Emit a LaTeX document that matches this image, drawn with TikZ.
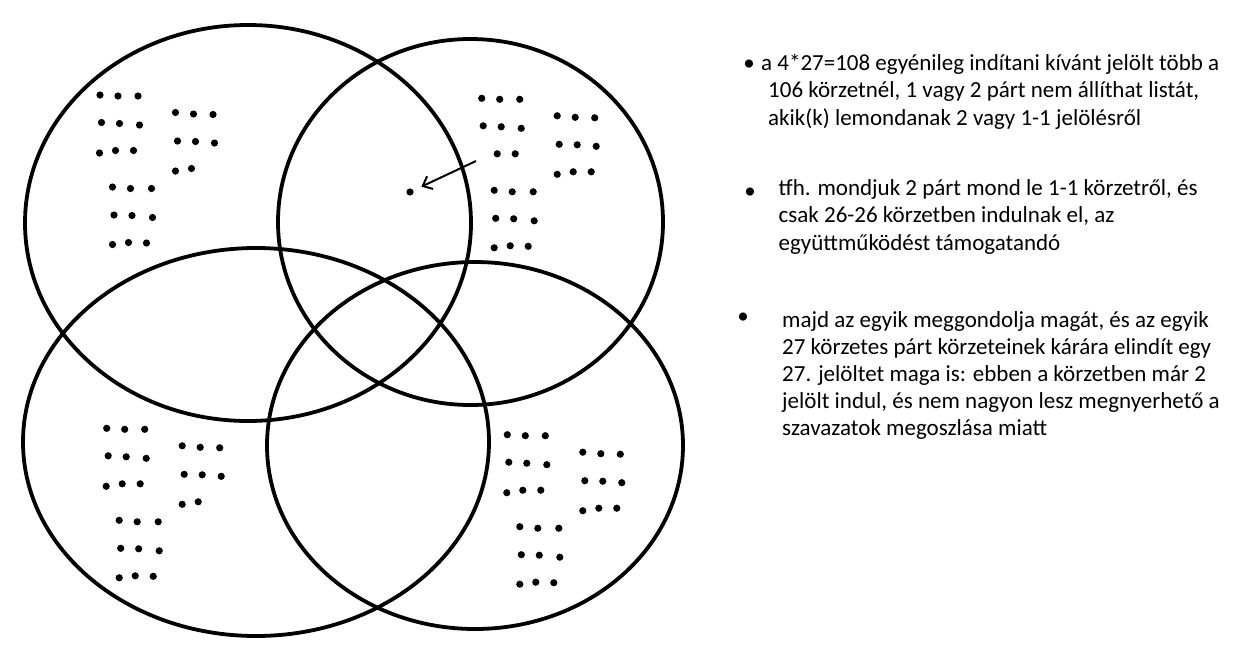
\documentclass[tikz,border=0pt]{standalone}
\usepackage{fontspec}
\setmainfont{Carlito}
\usetikzlibrary{arrows.meta}
\def\fullA{0/0,18/1,38/1,1.5/27.5,19.5/28.5,39.5/30,-0.5/58,15.5/55.5,33.5/55.5}
\def\partA{0/0,18/1,38/1,1.5/27.5,19.5/28.5,39.5/30,15.5/55.5,33.5/55.5}
\def\fullB{75.5/17.5,93.5/19,113/19.5,77.5/46,95.5/46.5,114.5/48,75.5/76,91.5/73.5,109.5/73.5}
\def\partB{75.5/17.5,93.5/19,113/19.5,77.5/46,95.5/46.5,114.5/48,75.5/76,91.5/73.5}
\def\fullC{12.5/92,30.5/93.5,51.5/93.5,14/120,32/120.5,52.5/122.5,12.5/149.5,28.5/147.5,46.5/148}
\begin{document}
\begin{tikzpicture}[x=1pt,y=-1pt,
  ring/.style={line width=3.8pt},
  dot/.style={circle,fill=black,inner sep=0pt,minimum size=7.2pt,outer sep=0pt},
  txt/.style={anchor=base west,inner sep=0pt,font=\fontsize{23}{27.5}\selectfont},
  bul/.style={anchor=base,inner sep=0pt,font=\fontsize{23}{27.5}\selectfont},
  arr/.style={line width=2pt,-{Straight Barb[length=8pt,width=14pt]},shorten >=9pt}]
\fill[white] (0,0) rectangle (1236,662);
\useasboundingbox (0,0) rectangle (1236,662);
% circles
\draw[ring] (248,223) ellipse [x radius=223pt,y radius=198pt];
\draw[ring] (470.5,222) ellipse [x radius=192.5pt,y radius=183pt];
\draw[ring] (256,442) ellipse [x radius=233pt,y radius=194pt];
\draw[ring] (475,445.5) ellipse [x radius=208pt,y radius=183.5pt];
% dot clusters
\begin{scope}[shift={(100,95)}]
 \foreach \dx/\dy [count=\i] in \fullA {\node[dot] (tla\i) at (\dx,\dy) {};}
 \foreach \dx/\dy [count=\i] in \partB {\node[dot] (tlb\i) at (\dx,\dy) {};}
 \foreach \dx/\dy [count=\i] in \fullC {\node[dot] (tlc\i) at (\dx,\dy) {};}
\end{scope}
\begin{scope}[shift={(481.7,98.3)}]
 \foreach \dx/\dy [count=\i] in \partA {\node[dot] (tra\i) at (\dx,\dy) {};}
 \foreach \dx/\dy [count=\i] in \fullB {\node[dot] (trb\i) at (\dx,\dy) {};}
 \foreach \dx/\dy [count=\i] in \fullC {\node[dot] (trc\i) at (\dx,\dy) {};}
\end{scope}
\begin{scope}[shift={(106.7,428.3)}]
 \foreach \dx/\dy [count=\i] in \fullA {\node[dot] (bla\i) at (\dx,\dy) {};}
 \foreach \dx/\dy [count=\i] in \partB {\node[dot] (blb\i) at (\dx,\dy) {};}
 \foreach \dx/\dy [count=\i] in \fullC {\node[dot] (blc\i) at (\dx,\dy) {};}
\end{scope}
\begin{scope}[shift={(507.3,434.7)}]
 \foreach \dx/\dy [count=\i] in \fullA {\node[dot] (bra\i) at (\dx,\dy) {};}
 \foreach \dx/\dy [count=\i] in \fullB {\node[dot] (brb\i) at (\dx,\dy) {};}
 \foreach \dx/\dy [count=\i] in \fullC {\node[dot] (brc\i) at (\dx,\dy) {};}
\end{scope}
% moved candidate
\node[dot] (moved) at (410,192) {};
\coordinate (astart) at (476,161);
\draw[arr] (astart) -- (moved);
% text
\node[bul] (b1) at (749,70) {•};
\node[txt] (t11) at (761,70) {a 4*27=108 egyénileg indítani kívánt jelölt több a};
\node[txt] (t12) at (768,97.5) {106 körzetnél, 1 vagy 2 párt nem állíthat listát,};
\node[txt] (t13) at (768,125) {akik(k) lemondanak 2 vagy 1-1 jelölésről};
\node[bul] (b2) at (750,198) {•};
\node[txt] (t21) at (778.5,195) {tfh. mondjuk 2 párt mond le 1-1 körzetről, és};
\node[txt] (t22) at (778.5,222.5) {csak 26-26 körzetben indulnak el, az};
\node[txt] (t23) at (778.5,250) {együttműködést támogatandó};
\node[bul] (b3) at (743,323) {•};
\node[txt] (t31) at (782,327) {majd az egyik meggondolja magát, és az egyik};
\node[txt] (t32) at (782,354) {27 körzetes párt körzeteinek kárára elindít egy};
\node[txt] (t33) at (782,381) {27. jelöltet maga is: ebben a körzetben már 2};
\node[txt] (t34) at (782,408) {jelölt indul, és nem nagyon lesz megnyerhető a};
\node[txt] (t35) at (782,435) {szavazatok megoszlása miatt};
\end{tikzpicture}
\end{document}
